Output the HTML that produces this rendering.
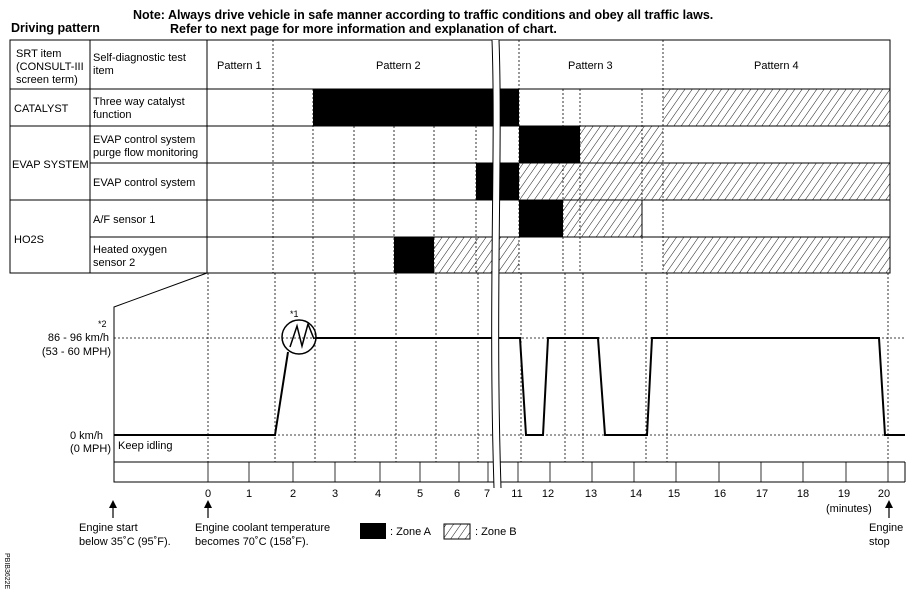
<!DOCTYPE html>
<html><head><meta charset="utf-8"><style>
body{margin:0;background:#fff}
svg{display:block;font-family:"Liberation Sans",Arial,sans-serif}
</style></head><body>
<svg width="910" height="601" viewBox="0 0 910 601" xmlns="http://www.w3.org/2000/svg">
<defs>
<pattern id="h" width="6" height="6" patternUnits="userSpaceOnUse" patternTransform="rotate(35)">
<line x1="0" y1="0" x2="0" y2="6" stroke="#000" stroke-width="0.9"/>
</pattern>
</defs>
<g font-weight="bold" font-size="12.5">
<text x="133" y="19">Note: Always drive vehicle in safe manner according to traffic conditions and obey all traffic laws.</text>
<text x="170" y="33">Refer to next page for more information and explanation of chart.</text>
<text x="11" y="32">Driving pattern</text>
</g>
<g>
<rect x="313" y="89" width="206" height="37" fill="#000"/>
<rect x="663" y="89" width="227" height="37" fill="url(#h)"/>
<rect x="519" y="126" width="61" height="37" fill="#000"/>
<rect x="580" y="126" width="83" height="37" fill="url(#h)"/>
<rect x="476" y="163" width="43" height="37" fill="#000"/>
<rect x="519" y="163" width="371" height="37" fill="url(#h)"/>
<rect x="519" y="200" width="44" height="37" fill="#000"/>
<rect x="563" y="200" width="79" height="37" fill="url(#h)"/>
<rect x="394" y="237" width="40" height="36" fill="#000"/>
<rect x="434" y="237" width="85" height="36" fill="url(#h)"/>
<rect x="663" y="237" width="227" height="36" fill="url(#h)"/>
</g>
<g stroke="#000" stroke-width="0.8" stroke-dasharray="2,2">
<line x1="273" y1="40" x2="273" y2="273"/>
<line x1="313" y1="89" x2="313" y2="273"/>
<line x1="354" y1="126" x2="354" y2="273"/>
<line x1="394" y1="126" x2="394" y2="273"/>
<line x1="434" y1="126" x2="434" y2="273"/>
<line x1="476" y1="126" x2="476" y2="273"/>
<line x1="519" y1="40" x2="519" y2="273"/>
<line x1="563" y1="89" x2="563" y2="273"/>
<line x1="580" y1="89" x2="580" y2="273"/>
<line x1="642" y1="89" x2="642" y2="273"/>
<line x1="663" y1="40" x2="663" y2="273"/>
<line x1="208" y1="273" x2="208" y2="462"/>
<line x1="275" y1="273" x2="275" y2="462"/>
<line x1="315" y1="273" x2="315" y2="462"/>
<line x1="355" y1="273" x2="355" y2="462"/>
<line x1="396" y1="273" x2="396" y2="462"/>
<line x1="436" y1="273" x2="436" y2="462"/>
<line x1="478" y1="273" x2="478" y2="462"/>
<line x1="521" y1="273" x2="521" y2="462"/>
<line x1="565" y1="273" x2="565" y2="462"/>
<line x1="583" y1="273" x2="583" y2="462"/>
<line x1="646" y1="273" x2="646" y2="462"/>
<line x1="667" y1="273" x2="667" y2="462"/>
<line x1="888" y1="273" x2="888" y2="462"/>
<line x1="114" y1="338" x2="905" y2="338"/>
<line x1="114" y1="435" x2="905" y2="435"/>
</g>
<g stroke="#000" stroke-width="1" fill="none">
<rect x="10" y="40" width="880" height="233"/>
<line x1="10" y1="89" x2="890" y2="89"/>
<line x1="90" y1="126" x2="890" y2="126"/>
<line x1="10" y1="126" x2="90" y2="126"/>
<line x1="90" y1="163" x2="890" y2="163"/>
<line x1="10" y1="200" x2="890" y2="200"/>
<line x1="90" y1="237" x2="890" y2="237"/>
<line x1="90" y1="40" x2="90" y2="273"/>
<line x1="207" y1="40" x2="207" y2="273"/>
<line x1="642" y1="200" x2="642" y2="237"/>
<polyline points="207,273 114,307 114,482 905,482"/>
<line x1="114" y1="462" x2="905" y2="462"/>
<line x1="905" y1="462" x2="905" y2="482"/>
</g>
<g stroke="#000" stroke-width="0.8">
<line x1="208" y1="462" x2="208" y2="482"/><line x1="249" y1="462" x2="249" y2="482"/>
<line x1="293" y1="462" x2="293" y2="482"/><line x1="335" y1="462" x2="335" y2="482"/>
<line x1="380" y1="462" x2="380" y2="482"/><line x1="420" y1="462" x2="420" y2="482"/>
<line x1="459" y1="462" x2="459" y2="482"/><line x1="488" y1="462" x2="488" y2="482"/>
<line x1="518" y1="462" x2="518" y2="482"/><line x1="550" y1="462" x2="550" y2="482"/>
<line x1="592" y1="462" x2="592" y2="482"/><line x1="634" y1="462" x2="634" y2="482"/>
<line x1="676" y1="462" x2="676" y2="482"/><line x1="719" y1="462" x2="719" y2="482"/>
<line x1="761" y1="462" x2="761" y2="482"/><line x1="803" y1="462" x2="803" y2="482"/>
<line x1="846" y1="462" x2="846" y2="482"/><line x1="888" y1="462" x2="888" y2="482"/>
</g>
<g stroke="#000" stroke-width="2" fill="none">
<polyline points="114,435 275,435 288,352"/>
<polyline points="316,338 520,338 526,435 543,435 548,338 598,338 605,435 647,435 652,338 879,338 885,435 905,435"/>
<polyline points="290,347 297,326 302,346 308,324 314,339" stroke-width="1.5"/>
</g>
<circle cx="299" cy="337" r="17" fill="none" stroke="#000" stroke-width="1.5"/>
<g fill="#fff" stroke="none"><path d="M492,40 C496,150 488,300 494,488 L501,488 C495,300 503,150 499,40Z"/></g>
<g stroke="#000" stroke-width="1" fill="none">
<path d="M492,40 C496,150 488,300 494,488"/>
<path d="M499,40 C503,150 495,300 501,488"/>
</g>
<g font-size="11">
<text x="16" y="57">SRT item</text><text x="16" y="70">(CONSULT-III</text><text x="16" y="83">screen term)</text>
<text x="93" y="61">Self-diagnostic test</text><text x="93" y="74">item</text>
<text x="217" y="69">Pattern 1</text><text x="376" y="69">Pattern 2</text>
<text x="568" y="69">Pattern 3</text><text x="754" y="69">Pattern 4</text>
<text x="14" y="112">CATALYST</text>
<text x="93" y="105">Three way catalyst</text><text x="93" y="118">function</text>
<text x="93" y="143">EVAP control system</text><text x="93" y="156">purge flow monitoring</text>
<text x="12" y="168">EVAP SYSTEM</text>
<text x="93" y="186">EVAP control system</text>
<text x="93" y="223">A/F sensor 1</text>
<text x="14" y="243">HO2S</text>
<text x="93" y="253">Heated oxygen</text><text x="93" y="266">sensor 2</text>
<text x="290" y="317" font-size="9">*1</text>
<text x="98" y="327" font-size="9">*2</text>
<text x="109" y="341" text-anchor="end">86 - 96 km/h</text>
<text x="111" y="355" text-anchor="end">(53 - 60 MPH)</text>
<text x="103" y="439" text-anchor="end">0 km/h</text>
<text x="111" y="452" text-anchor="end">(0 MPH)</text>
<text x="118" y="449">Keep idling</text>
<g text-anchor="middle">
<text x="208" y="497">0</text><text x="249" y="497">1</text><text x="293" y="497">2</text>
<text x="335" y="497">3</text><text x="378" y="497">4</text><text x="420" y="497">5</text>
<text x="457" y="497">6</text><text x="487" y="497">7</text><text x="517" y="497">11</text>
<text x="548" y="497">12</text><text x="591" y="497">13</text><text x="636" y="497">14</text>
<text x="674" y="497">15</text><text x="720" y="497">16</text><text x="762" y="497">17</text>
<text x="803" y="497">18</text><text x="844" y="497">19</text><text x="884" y="497">20</text>
</g>
<text x="826" y="512">(minutes)</text>
<text x="79" y="531">Engine start</text><text x="79" y="545">below 35˚C (95˚F).</text>
<text x="195" y="531">Engine coolant temperature</text><text x="195" y="545">becomes 70˚C (158˚F).</text>
<text x="390" y="535">: Zone A</text><text x="475" y="535">: Zone B</text>
<text x="869" y="531">Engine</text><text x="869" y="545">stop</text>
</g>
<rect x="360" y="523" width="26" height="16" fill="#000"/>
<rect x="444" y="524" width="26" height="15" fill="url(#h)" stroke="#000"/>
<g stroke="#000" stroke-width="1.2">
<line x1="113" y1="506" x2="113" y2="518"/><line x1="208" y1="506" x2="208" y2="518"/><line x1="889" y1="506" x2="889" y2="518"/>
</g>
<g fill="#000">
<polygon points="113,500 109,508 117,508"/><polygon points="208,500 204,508 212,508"/><polygon points="889,500 885,508 893,508"/>
</g>
<text transform="translate(5,553) rotate(90)" font-size="7">PBIB3622E</text>
</svg>
</body></html>
